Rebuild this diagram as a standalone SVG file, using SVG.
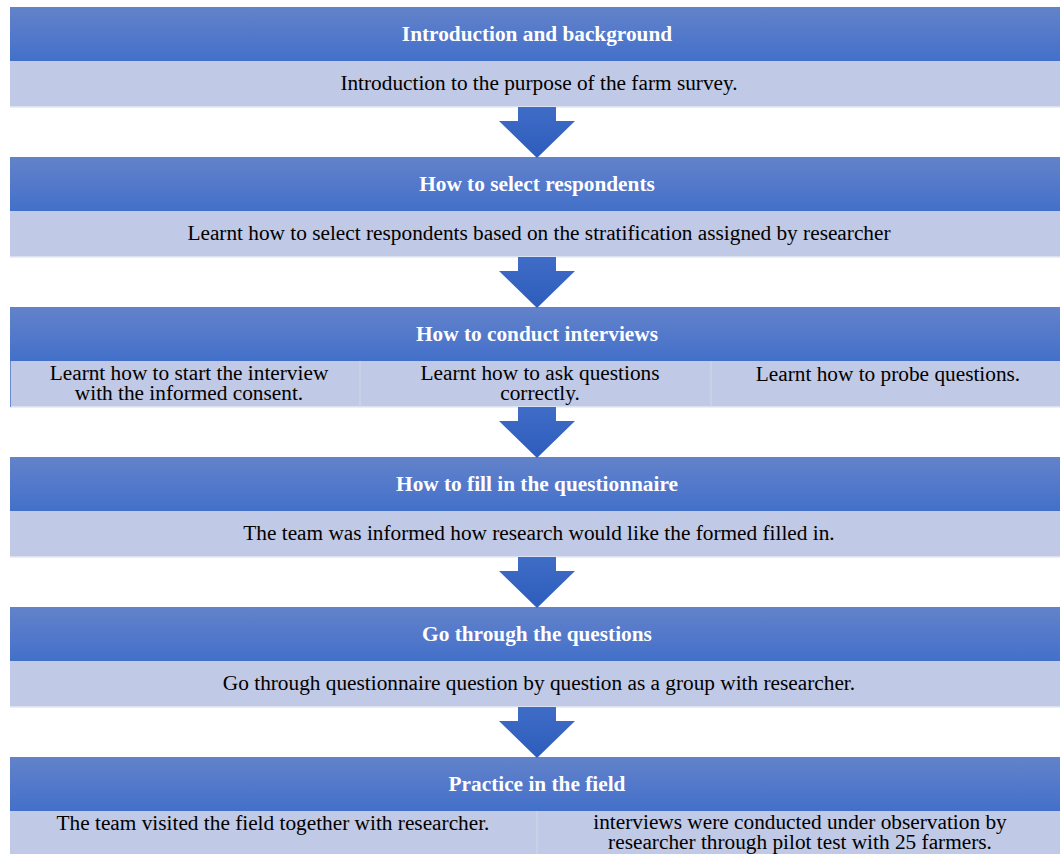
<svg xmlns="http://www.w3.org/2000/svg" width="1060" height="854" viewBox="0 0 1060 854">
  <defs>
    <linearGradient id="hdr" x1="0" y1="0" x2="0" y2="1">
      <stop offset="0" stop-color="#6283c9"/>
      <stop offset="0.5" stop-color="#5479cb"/>
      <stop offset="1" stop-color="#4270c9"/>
    </linearGradient>
    <linearGradient id="arw" x1="0" y1="0" x2="0" y2="1">
      <stop offset="0" stop-color="#3f6cc6"/>
      <stop offset="1" stop-color="#2d5cbc"/>
    </linearGradient>
    <path id="downArrow" d="M-19,0 H19 V14 H38 L0,51 L-38,14 H-19 Z"/>
  </defs>
  <style>
    .hdr { fill: url(#hdr); }
    .body { fill: #c0c9e5; }
    .rule { stroke: #e6e9f4; stroke-width: 1.5; }
    .div { stroke: #d2d8ec; stroke-width: 1; }
    .ht { font-family: "Liberation Serif", "Times New Roman", serif; font-size: 21.3px; font-weight: bold; fill: #ffffff; text-anchor: middle; }
    .bt { font-family: "Liberation Serif", "Times New Roman", serif; font-size: 21.3px; fill: #000000; text-anchor: middle; }
    .arrow { fill: url(#arw); }
  </style>
  <rect width="1060" height="854" fill="#ffffff"/>

  <!-- step 1 -->
  <g id="step-intro">
    <rect class="hdr" x="10" y="7" width="1050" height="54"/>
    <rect class="body" x="10" y="61" width="1050" height="46"/>
    <line class="rule" x1="10" y1="107" x2="1060" y2="107"/>
    <text class="ht" x="537" y="41">Introduction and background</text>
    <text class="bt" x="539" y="90">Introduction to the purpose of the farm survey.</text>
  </g>

  <!-- step 2 -->
  <g id="step-select">
    <rect class="hdr" x="10" y="157" width="1050" height="54"/>
    <rect class="body" x="10" y="211" width="1050" height="46"/>
    <line class="rule" x1="10" y1="257" x2="1060" y2="257"/>
    <text class="ht" x="537" y="191">How to select respondents</text>
    <text class="bt" x="539" y="240">Learnt how to select respondents based on the stratification assigned by researcher</text>
  </g>

  <!-- step 3 -->
  <g id="step-interview">
    <rect class="hdr" x="10" y="307" width="1050" height="54"/>
    <rect class="body" x="10" y="361" width="1050" height="46"/>
    <line class="rule" x1="10" y1="407" x2="1060" y2="407"/>
    <line class="div" x1="360" y1="361" x2="360" y2="407"/>
    <line class="div" x1="711" y1="361" x2="711" y2="407"/>
    <line x1="10.5" y1="361" x2="10.5" y2="407" stroke="#6a8bd0" stroke-width="1"/>
    <text class="ht" x="537" y="341">How to conduct interviews</text>
    <text class="bt" x="189" y="380">Learnt how to start the interview</text>
    <text class="bt" x="189" y="400">with the informed consent.</text>
    <text class="bt" x="540" y="380">Learnt how to ask questions</text>
    <text class="bt" x="540" y="400">correctly.</text>
    <text class="bt" x="888" y="381">Learnt how to probe questions.</text>
  </g>

  <!-- step 4 -->
  <g id="step-fill">
    <rect class="hdr" x="10" y="457" width="1050" height="54"/>
    <rect class="body" x="10" y="511" width="1050" height="46"/>
    <line class="rule" x1="10" y1="557" x2="1060" y2="557"/>
    <text class="ht" x="537" y="491">How to fill in the questionnaire</text>
    <text class="bt" x="539" y="540">The team was informed how research would like the formed filled in.</text>
  </g>

  <!-- step 5 -->
  <g id="step-questions">
    <rect class="hdr" x="10" y="607" width="1050" height="54"/>
    <rect class="body" x="10" y="661" width="1050" height="46"/>
    <line class="rule" x1="10" y1="707" x2="1060" y2="707"/>
    <text class="ht" x="537" y="641">Go through the questions</text>
    <text class="bt" x="539" y="690">Go through questionnaire question by question as a group with researcher.</text>
  </g>

  <!-- step 6 -->
  <g id="step-field">
    <rect class="hdr" x="10" y="757" width="1050" height="54"/>
    <rect class="body" x="10" y="811" width="1050" height="43"/>
    <line class="div" x1="537" y1="811" x2="537" y2="854"/>
    <text class="ht" x="537" y="791">Practice in the field</text>
    <text class="bt" x="273" y="830">The team visited the field together with researcher.</text>
    <text class="bt" x="800" y="829">interviews were conducted under observation by</text>
    <text class="bt" x="800" y="849">researcher through pilot test with 25 farmers.</text>
  </g>

  <!-- connectors -->
  <g id="connectors">
    <use href="#downArrow" class="arrow" x="537" y="107"/>
    <use href="#downArrow" class="arrow" x="537" y="257"/>
    <use href="#downArrow" class="arrow" x="537" y="407"/>
    <use href="#downArrow" class="arrow" x="537" y="557"/>
    <use href="#downArrow" class="arrow" x="537" y="707"/>
  </g>
</svg>
